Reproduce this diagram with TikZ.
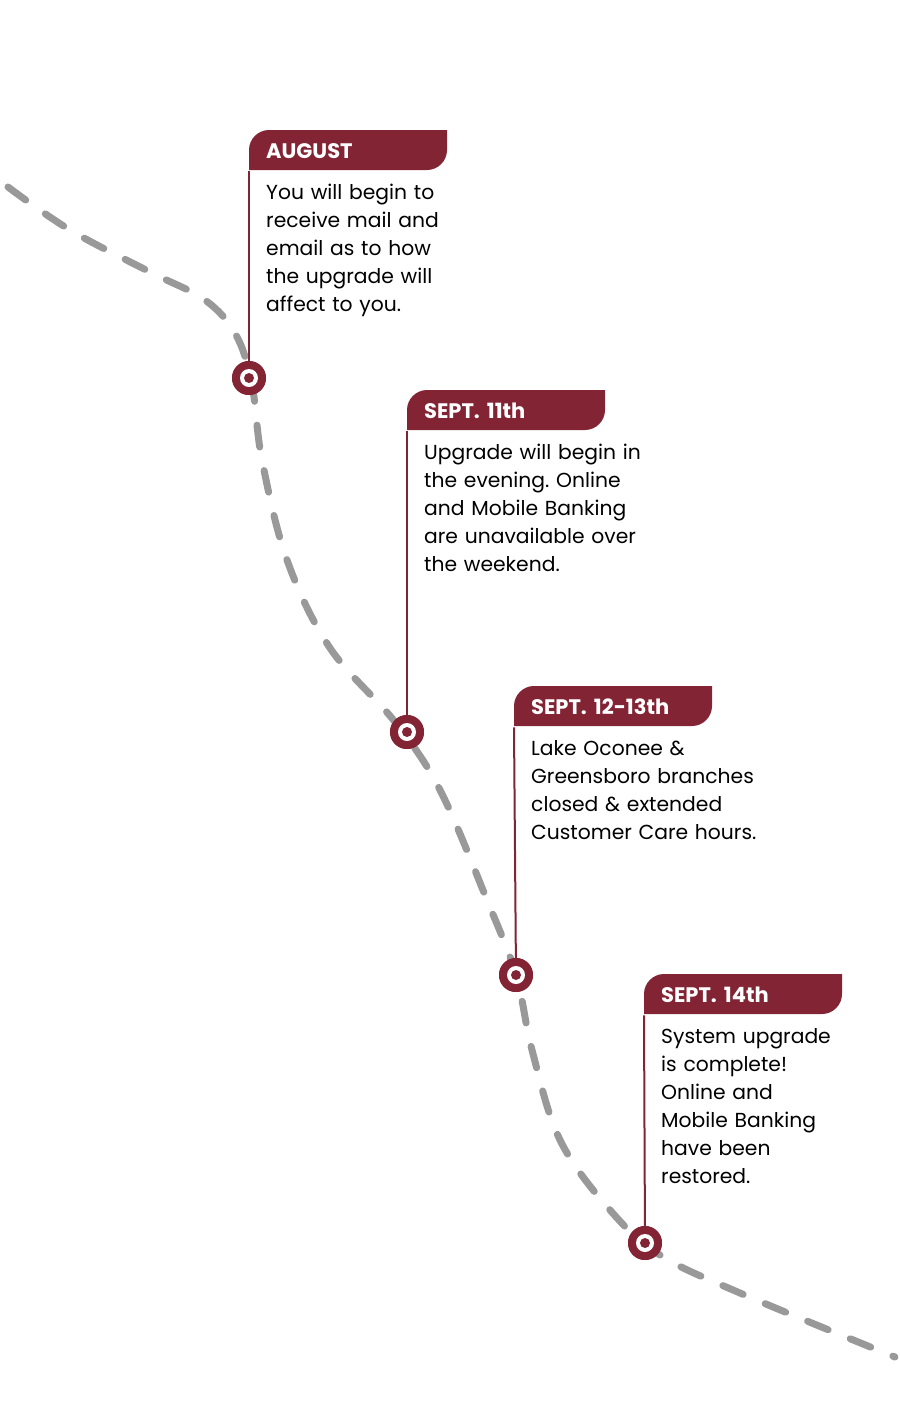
\documentclass[tikz,border=0pt]{standalone}
\usepackage{fontspec}
\setmainfont{Poppins}
\usepackage{tikz}
\usetikzlibrary{positioning}
\definecolor{wine}{HTML}{832434}
\definecolor{trail}{HTML}{999999}
\frenchspacing
\tikzset{
  marker/.style={circle, fill=wine, minimum size=34pt, inner sep=0pt,
    path picture={\fill[white] (path picture bounding box.center) circle (9pt);
      \fill[wine] (path picture bounding box.center) circle (5pt);}},
  tab/.style={anchor=north west, text=white, font=\bfseries\fontsize{21}{22}\selectfont,
    minimum width=198pt, minimum height=40pt, inner sep=0pt, inner xsep=17pt, text width=164pt, align=left},
  info/.style={anchor=north west, font=\fontsize{20.3}{28}\selectfont, text width=260pt, align=left,
    inner sep=0pt},
  stem/.style={wine, line width=2pt}
}
\newcommand{\tabshape}[2]{% x, y
  \fill[wine] (#1,#2+40) -- (#1,#2+20) .. controls (#1,#2+9) and (#1+9,#2) .. (#1+20,#2)
    -- (#1+198,#2) -- (#1+198,#2+20) .. controls (#1+198,#2+31) and (#1+189,#2+40) .. (#1+178,#2+40) -- cycle;
}
\begin{document}
\begin{tikzpicture}[x=1pt, y=-1pt]
    \useasboundingbox (0,0) rectangle (900,1428);
    % dashed trail
    \draw[trail, line width=7pt, line cap=round, dash pattern=on 22pt off 24pt]
        plot[smooth, tension=0.6] coordinates {(8,187) (70,230) (150,272) (205,300) (236,335) (252,385) (262,460)
        (287,560) (330,648) (395,722) (440,790) (487,900) (516,975) (532,1050) (560,1140) (610,1210) (660,1255)
        (740,1293) (895,1357)};
    % milestones
    \foreach \x/\y in {249/130, 407/390, 514/686, 644/974}{
        \tabshape{\x}{\y}
    }
    \node[marker] (m1) at (249,378) {};
    \node[marker] (m2) at (407,732) {};
    \node[marker] (m3) at (516,975) {};
    \node[marker] (m4) at (645,1243) {};

    \node[tab] (t1) at (249,131) {AUGUST};
    \node[tab] (t2) at (407,391) {SEPT. 11th};
    \node[tab] (t3) at (514,687) {SEPT. 12-13th};
    \node[tab] (t4) at (644,975) {SEPT. 14th};

    \draw[stem] (t1.south west) -- (m1.center);
    \draw[stem] (t2.south west) -- (m2.center);
    \draw[stem] (t3.south west) -- (m3.center);
    \draw[stem] (t4.south west) -- (m4.center);
    \foreach \m in {m1,m2,m3,m4}{
        \node[marker] at (\m) {};
    }

    \node[info] (d1) at (266,184) {You will begin to\\receive mail and\\email as to how\\the upgrade will\\affect to you.};
    \node[info] (d2) at (424,444) {Upgrade will begin in\\the evening. Online\\and Mobile Banking\\are unavailable over\\the weekend.};
    \node[info] (d3) at (531,740) {Lake Oconee \&\\Greensboro branches\\closed \& extended\\Customer Care hours.};
    \node[info] (d4) at (661,1028) {System upgrade\\is complete!\\Online and\\Mobile Banking\\have been\\restored.};
\end{tikzpicture}
\end{document}
